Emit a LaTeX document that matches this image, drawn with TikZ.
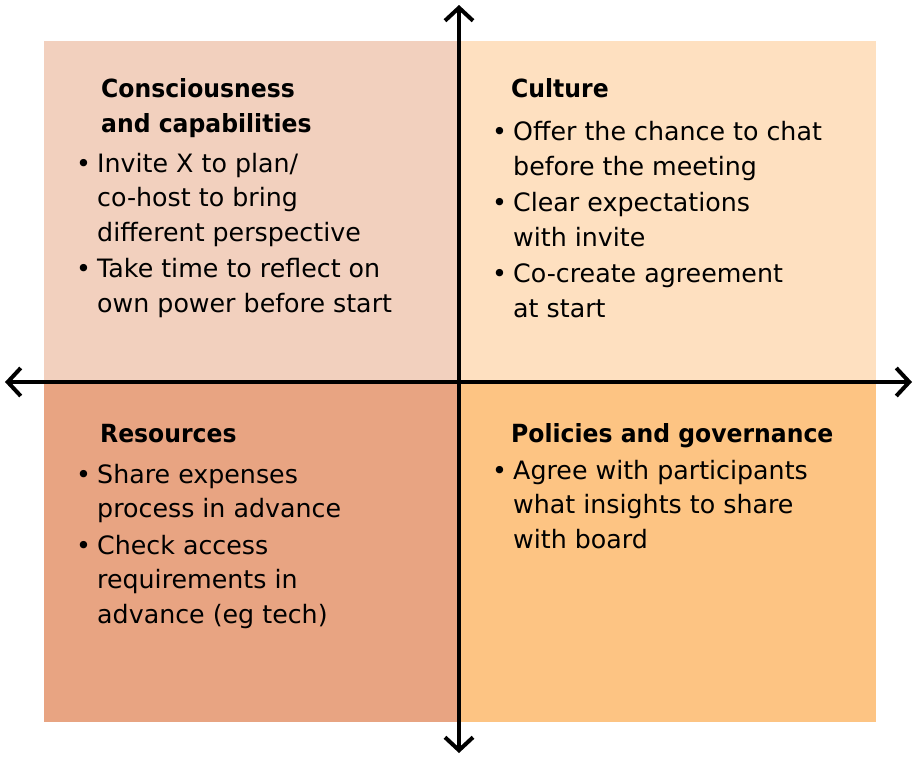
\documentclass[tikz,border=0pt]{standalone}
\usepackage{fontspec}
\setmainfont{DejaVu Sans}
\newfontfamily\headfont{DejaVu Sans}[FakeStretch=0.94]
\usetikzlibrary{arrows.meta}
\definecolor{rose}{RGB}{242,208,190}
\definecolor{peach}{RGB}{254,224,192}
\definecolor{clay}{RGB}{232,164,130}
\definecolor{amber}{RGB}{253,196,131}
\newcommand{\bul}{\makebox[17pt][l]{\kern-4pt\textbullet}}
\newcommand{\ind}{\hspace*{17pt}}

\begin{document}
\begin{tikzpicture}[%
        x=1pt, y=-1pt,
        txt/.style={anchor=base west, inner sep=0pt, align=left, font=\fontsize{25.3}{34.5}\selectfont},
        head/.style={txt, font=\headfont\fontsize{25}{35}\selectfont\bfseries},
        axis/.style={line width=4pt, {Straight Barb[length=13pt,width=28pt]}-{Straight Barb[length=13pt,width=28pt]}}
        ]
        \useasboundingbox (0,0) rectangle (916,758);
        \fill[rose] (44,41) rectangle (459,382);
        \fill[peach] (459,41) rectangle (876,382);
        \fill[clay] (44,382) rectangle (459,722);
        \fill[amber] (459,382) rectangle (876,722);
        % anchors sit on the last line of each block
        \node[head] (conh) at (101,132) {Consciousness\\and capabilities};
        \node[txt] (conb) at (80,312) {\bul Invite X to plan/\\ \ind co-host to bring\\ \ind different perspective\\[2pt] \bul Take time to reflect on\\ \ind own power before start};
        \node[head] (culh) at (511,97) {Culture};
        \node[txt] (culb) at (496,317) {\bul Offer the chance to chat\\ \ind before the meeting\\[2pt] \bul Clear expectations\\ \ind with invite\\[2pt] \bul Co-create agreement\\ \ind at start};
        \node[head] (resh) at (100,442) {Resources};
        \node[txt] (resb) at (80,623) {\bul Share expenses\\ \ind process in advance\\[2pt] \bul Check access\\ \ind requirements in\\ \ind advance (eg tech)};
        \node[head] (polh) at (511,442) {Policies and governance};
        \node[txt] (polb) at (496,548) {\bul Agree with participants\\ \ind what insights to share\\ \ind with board};
        \coordinate (top) at (459,5);
        \coordinate (bot) at (459,753);
        \coordinate (lft) at (5,382);
        \coordinate (rgt) at (912,382);
        \draw[axis] (top) -- (bot);
        \draw[axis] (lft) -- (rgt);
    \end{tikzpicture}
\end{document}
